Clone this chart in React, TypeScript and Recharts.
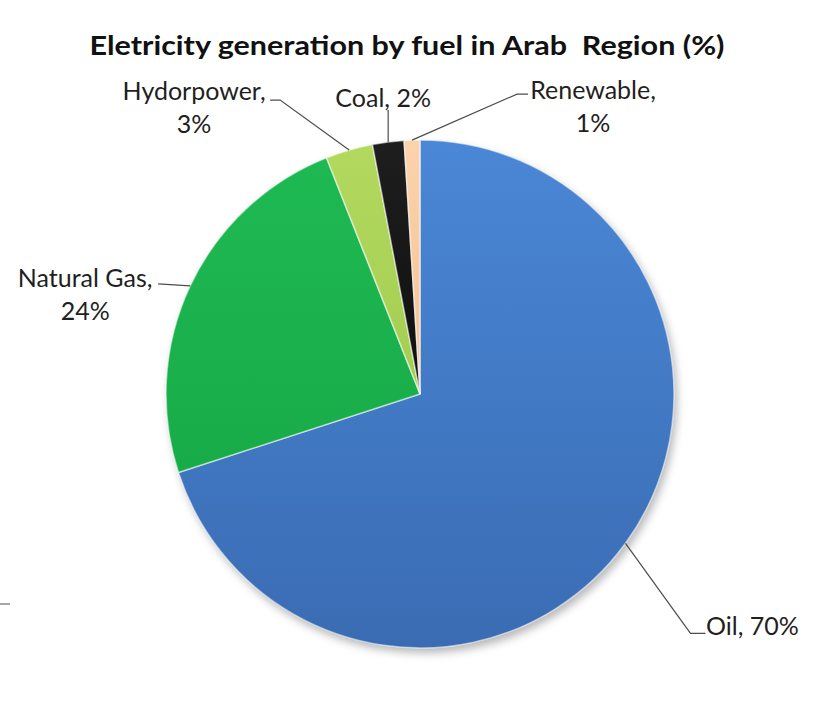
import React from 'react';
import { PieChart, Pie, Cell } from 'recharts';

const categories = ['Oil', 'Natural Gas', 'Hydorpower', 'Coal', 'Renewable'];
const shares = [70, 24, 3, 2, 1];

const gradientStops: [string, string][] = [
  ['#4a87d6', '#3a6cb3'],
  ['#1fba53', '#14a443'],
  ['#b3d95e', '#93c243'],
  ['#1e1e1e', '#000000'],
  ['#fbd3ad', '#f1b07a'],
];

// label placement, offsets from the point where the slice's mid angle meets the rim
const labelLayout: Record<string, { path: [number, number][]; text: [number, number]; twoLines: boolean }> = {
  Oil: { path: [[65, 90], [80, 90]], text: [127, 92], twoLines: false },
  'Natural Gas': { path: [[-32, -2]], text: [-105, 1], twoLines: true },
  Hydorpower: { path: [[-69, -50], [-79, -50]], text: [-155, -50], twoLines: true },
  Coal: { path: [[0, -32]], text: [-5, -35], twoLines: false },
  Renewable: { path: [[105, -46], [116, -46]], text: [181, -41], twoLines: true },
};

const data = categories.map((name, i) => ({ name, value: shares[i] }));

const RADIAN = Math.PI / 180;
const FONT = 'Lato, "Open Sans", sans-serif';

const renderLabel = (props: any) => {
  const { cx, cy, midAngle, outerRadius, name, value } = props;
  const ex = cx + outerRadius * Math.cos(-midAngle * RADIAN);
  const ey = cy + outerRadius * Math.sin(-midAngle * RADIAN);
  const layout = labelLayout[name];
  const pts = [[ex, ey], ...layout.path.map(([dx, dy]) => [ex + dx, ey + dy])];
  const tx = ex + layout.text[0];
  const ty = ey + layout.text[1];
  return (
    <g>
      <polyline
        points={pts.map((p) => p.join(',')).join(' ')}
        fill="none"
        stroke="#4d4d4d"
        strokeWidth={1.2}
      />
      {layout.twoLines ? (
        <text x={tx} y={ty} textAnchor="middle" fontFamily={FONT} fontSize={25} fill="#1f1f1f">
          <tspan x={tx}>{name},</tspan>
          <tspan x={tx} dy={33}>{value}%</tspan>
        </text>
      ) : (
        <text x={tx} y={ty} textAnchor="middle" fontFamily={FONT} fontSize={25} fill="#1f1f1f">
          {name}, {value}%
        </text>
      )}
    </g>
  );
};

export default function App() {
  return (
    <div style={{ position: 'absolute', left: 0, top: 0, width: 826, height: 712, background: '#fff' }}>
      <PieChart width={826} height={712} margin={{ top: 0, right: 0, bottom: 0, left: 0 }}>
        <defs>
          {gradientStops.map(([top, bottom], i) => (
            <linearGradient key={i} id={`slice${i}`} x1="0" y1="140" x2="0" y2="648" gradientUnits="userSpaceOnUse">
              <stop offset="0%" stopColor={top} />
              <stop offset="100%" stopColor={bottom} />
            </linearGradient>
          ))}
          <filter id="pieShadow" x="-20%" y="-20%" width="140%" height="140%">
            <feGaussianBlur stdDeviation="4" />
          </filter>
        </defs>
        <text
          x={407}
          y={55}
          textAnchor="middle"
          fontFamily={FONT}
          fontWeight="bold"
          fontSize={27}
          fill="#111"
          textLength={635}
          lengthAdjust="spacingAndGlyphs"
          style={{ whiteSpace: 'pre' }}
        >
          Eletricity generation by fuel in Arab  Region (%)
        </text>
        {/* small grey tick left over at the picture's left edge */}
        <line x1={0} y1={604} x2={10} y2={604} stroke="#a6a6a6" strokeWidth={2} />
        <Pie
          data={data}
          dataKey="value"
          cx={423}
          cy={399}
          outerRadius={254}
          startAngle={90}
          endAngle={-270}
          stroke="none"
          isAnimationActive={false}
        >
          {data.map((d) => (
            <Cell key={d.name} fill="rgba(0,0,0,0.28)" filter="url(#pieShadow)" />
          ))}
        </Pie>
        <Pie
          data={data}
          dataKey="value"
          cx={420}
          cy={394}
          outerRadius={254}
          startAngle={90}
          endAngle={-270}
          stroke="rgba(255,255,255,0.55)"
          strokeWidth={1.5}
          label={renderLabel}
          labelLine={false}
          isAnimationActive={false}
        >
          {data.map((d, i) => (
            <Cell key={d.name} fill={`url(#slice${i})`} />
          ))}
        </Pie>
      </PieChart>
    </div>
  );
}
